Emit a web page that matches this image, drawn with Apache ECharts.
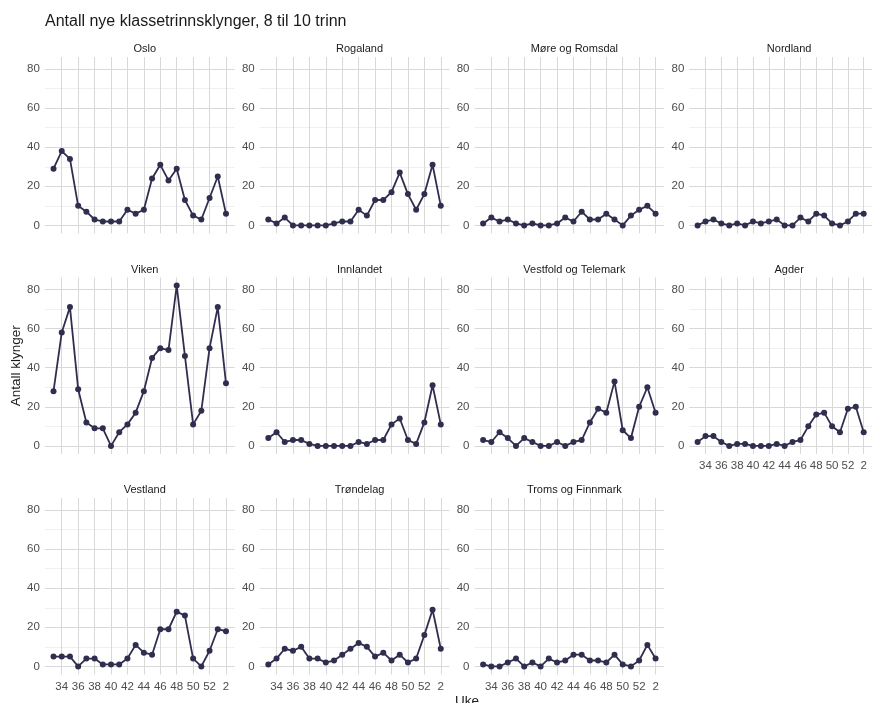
<!DOCTYPE html>
<html><head><meta charset="utf-8">
<script src="https://cdn.jsdelivr.net/npm/echarts@6/dist/echarts.min.js"></script>
<style>html,body{margin:0;padding:0;background:#fff}#c{width:872px;height:703px}</style>
</head><body><div id="c"></div>
<script>
// ---- data ----
const weeks = [33,34,35,36,37,38,39,40,41,42,43,44,45,46,47,48,49,50,51,52,53,54];
const tickValues = [34,36,38,40,42,44,46,48,50,52,54];
const tickLabels = ['34','36','38','40','42','44','46','48','50','52','2'];
const yTicks = [0,20,40,60,80];
const yMinorTicks = [10,30,50,70];
const regions = ['Oslo','Rogaland','Møre og Romsdal','Nordland','Viken','Innlandet','Vestfold og Telemark','Agder','Vestland','Trøndelag','Troms og Finnmark'];

const oslo      = [29,38,34,10,7,3,2,2,2,8,6,8,24,31,23,29,13,5,3,14,25,6];
const rogaland  = [3,1,4,0,0,0,0,0,1,2,2,8,5,13,13,17,27,16,8,16,31,10];
const more      = [1,4,2,3,1,0,1,0,0,1,4,2,7,3,3,6,3,0,5,8,10,6];
const nordland  = [0,2,3,1,0,1,0,2,1,2,3,0,0,4,2,6,5,1,0,2,6,6];
const viken     = [28,58,71,29,12,9,9,0,7,11,17,28,45,50,49,82,46,11,18,50,71,32];
const innlandet = [4,7,2,3,3,1,0,0,0,0,0,2,1,3,3,11,14,3,1,12,31,11];
const vestfold  = [3,2,7,4,0,4,2,0,0,2,0,2,3,12,19,17,33,8,4,20,30,17];
const agder     = [2,5,5,2,0,1,1,0,0,0,1,0,2,3,10,16,17,10,7,19,20,7];
const vestland  = [5,5,5,0,4,4,1,1,1,4,11,7,6,19,19,28,26,4,0,8,19,18];
const trondelag = [1,4,9,8,10,4,4,2,3,6,9,12,10,5,7,3,6,2,4,16,29,9];
const troms     = [1,0,0,2,4,0,2,0,4,2,3,6,6,3,3,2,6,1,0,3,11,4];
const seriesValues = [oslo,rogaland,more,nordland,viken,innlandet,vestfold,agder,vestland,trondelag,troms];

// ---- layout ----
const FONT = '"Liberation Sans", Arial, sans-serif';
const panelLeft0 = 44.9, colStep = 214.8, panelW = 189.7;
const panelTops = [57.1, 277.6, 498.1], panelH = 176.3;
const xMin = 31.95, xMax = 55.05, yMin = -4.1, yMax = 86.1;
const lineColor = '#302e4f';
const showXLabels = [false,false,false,false,false,false,false,true,true,true,true];

const grids = [], xAxes = [], yAxes = [], series = [], titles = [];
titles.push({text:'Antall nye klassetrinnsklynger, 8 til 10 trinn', left: 40, top: 9,
  textStyle:{fontFamily:FONT, fontSize:16, fontWeight:'normal', color:'#1a1a1a'}});

regions.forEach((name, i) => {
  const r = Math.floor(i/4), c = i % 4;
  const left = panelLeft0 + c*colStep, top = panelTops[r];
  grids.push({left: left, top: top, width: panelW, height: panelH, containLabel:false});
  titles.push({text: name, left: left + panelW/2, top: top - 18.5, textAlign:'center',
    textStyle:{fontFamily:FONT, fontSize:11, fontWeight:'normal', color:'#1a1a1a'}});
  xAxes.push({type:'value', gridIndex:i, min:xMin, max:xMax,
    axisLine:{show:false},
    axisTick:{show:false, customValues: tickValues},
    axisLabel:{show: showXLabels[i], customValues: tickValues, margin:6,
      fontFamily:FONT, fontSize:11.5, color:'#4d4d4d',
      formatter: v => { const k = tickValues.indexOf(Math.round(v)); return k>=0 ? tickLabels[k] : ''; }},
    splitLine:{show:true, lineStyle:{color:'#d8d8d8', width:1}}
  });
  yAxes.push({type:'value', gridIndex:i, min:yMin, max:yMax,
    axisLine:{show:false},
    axisTick:{show:false, customValues: yTicks},
    axisLabel:{show:true, customValues: yTicks, margin:5,
      fontFamily:FONT, fontSize:11.5, color:'#4d4d4d'},
    splitLine:{show:true, lineStyle:{color:'#d8d8d8', width:1}},
    name: i===4 ? 'Antall klynger' : '', nameLocation:'middle', nameRotate:90, nameGap:21,
    nameTextStyle:{fontFamily:FONT, fontSize:13.5, color:'#1a1a1a'}
  });
  // minor grid axis
  yAxes.push({type:'value', gridIndex:i, min:yMin, max:yMax,
    axisLine:{show:false},
    axisTick:{show:false, customValues: yMinorTicks},
    axisLabel:{show:false},
    splitLine:{show:true, lineStyle:{color:'#ececec', width:0.8}}
  });
  series.push({type:'line', xAxisIndex:i, yAxisIndex:yAxes.length-2,
    data: weeks.map((w,k)=>[w, seriesValues[i][k]]),
    symbol:'circle', symbolSize:6, showSymbol:true,
    itemStyle:{color:lineColor}, lineStyle:{color:lineColor, width:1.8},
    clip:false, animation:false, silent:true, z:5});
});
titles.push({text:'Uke', left: 462, top: 689, textAlign:'center',
  textStyle:{fontFamily:FONT, fontSize:13.5, fontWeight:'normal', color:'#1a1a1a'}});

const chart = echarts.init(document.getElementById('c'), null, {renderer:'canvas'});
chart.setOption({backgroundColor:'#ffffff', animation:false, title:titles, grid:grids,
  xAxis:xAxes, yAxis:yAxes, series:series});
</script></body></html>
